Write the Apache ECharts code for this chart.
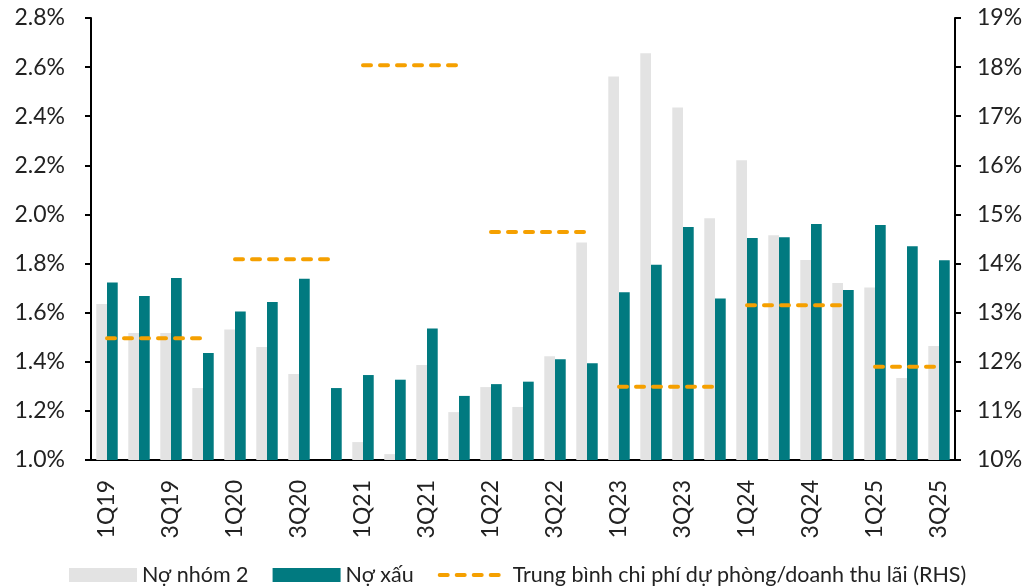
<!DOCTYPE html>
<html lang="vi">
<head>
<meta charset="UTF-8">
<title>Nợ nhóm 2 và nợ xấu</title>
<style>
  html, body { margin: 0; padding: 0; background: #fff; }
  #main { width: 1031px; height: 587px; }
</style>
</head>
<body>
<div id="main"></div>
<script src="https://cdn.jsdelivr.net/npm/echarts@6/dist/echarts.min.js"></script>
<script>
// quý
var quarters = ['1Q19','2Q19','3Q19','4Q19','1Q20','2Q20','3Q20','4Q20',
  '1Q21','2Q21','3Q21','4Q21','1Q22','2Q22','3Q22','4Q22',
  '1Q23','2Q23','3Q23','4Q23','1Q24','2Q24','3Q24','4Q24',
  '1Q25','2Q25','3Q25'];

// Nợ nhóm 2 (%)
var group2 = [1.635, 1.517, 1.517, 1.293, 1.531, 1.46, 1.35, null,
  1.073, 1.024, 1.387, 1.195, 1.297, 1.216, 1.423, 1.886,
  2.562, 2.656, 2.436, 1.984, 2.221, 1.915, 1.814, 1.721,
  1.702, 1.334, 1.464];

// Nợ xấu (%)
var npl = [1.723, 1.668, 1.741, 1.436, 1.605, 1.643, 1.738, 1.293,
  1.346, 1.327, 1.536, 1.261, 1.309, 1.319, 1.41, 1.394,
  1.683, 1.795, 1.949, 1.658, 1.904, 1.907, 1.961, 1.692,
  1.957, 1.87, 1.813];

// trung bình năm, chi phí dự phòng/doanh thu lãi (RHS, %)
var years = ['19', '20', '21', '22', '23', '24', '25'];
var yearAvg = [12.48, 14.09, 18.04, 14.64, 11.49, 13.15, 11.9];

var fontName = 'Lato, "Noto Sans", sans-serif';
var avgName = 'Trung bình chi phí dự phòng/doanh thu lãi (RHS)';
var dashStyle = { color: '#F5A000', width: 4, type: [8, 9], cap: 'round' };

var series = [
  {
    name: 'Nợ nhóm 2',
    type: 'bar',
    data: group2,
    itemStyle: { color: '#E3E3E3' },
    barGap: '0%',
    barCategoryGap: '33%'
  },
  {
    name: 'Nợ xấu',
    type: 'bar',
    data: npl,
    itemStyle: { color: '#017A80' }
  }
];

// mỗi năm một đoạn nét đứt riêng
for (var y = 0; y < years.length; y++) {
  var d = [];
  for (var i = 0; i < quarters.length; i++) {
    d.push(quarters[i].slice(2) === years[y] ? yearAvg[y] : null);
  }
  series.push({
    name: avgName,
    type: 'line',
    yAxisIndex: 1,
    data: d,
    symbol: 'none',
    silent: true,
    lineStyle: dashStyle,
    itemStyle: { color: '#F5A000' }
  });
}

var myChart = echarts.init(document.getElementById('main'));

myChart.setOption({
  animation: false,
  textStyle: { fontFamily: fontName },
  grid: { left: 91, right: 76, top: 18, bottom: 127 },
  legend: {
    left: 69,
    top: 564,
    padding: 0,
    itemWidth: 68,
    itemHeight: 14,
    itemGap: 24,
    data: [
      { name: 'Nợ nhóm 2', icon: 'rect' },
      { name: 'Nợ xấu', icon: 'rect' },
      { name: avgName, itemStyle: { opacity: 0 } }
    ],
    lineStyle: { type: [8, 9], width: 4, cap: 'round' },
    textStyle: { fontSize: 21.5, color: '#222', fontFamily: fontName }
  },
  xAxis: {
    type: 'category',
    data: quarters,
    axisLine: { lineStyle: { color: '#000', width: 2 } },
    axisTick: { interval: 0, length: 7, lineStyle: { color: '#000', width: 2 } },
    axisLabel: { interval: 1, rotate: 90, margin: 20, fontSize: 23, color: '#222' }
  },
  yAxis: [
    {
      type: 'value',
      min: 1.0,
      max: 2.8,
      interval: 0.2,
      splitLine: { show: false },
      axisLine: { show: true, lineStyle: { color: '#000', width: 2 } },
      axisTick: { show: true, length: 6, lineStyle: { color: '#000', width: 2 } },
      axisLabel: {
        margin: 26,
        fontSize: 23,
        color: '#222',
        formatter: function (v) { return v.toFixed(1) + '%'; }
      }
    },
    {
      type: 'value',
      min: 10,
      max: 19,
      interval: 1,
      position: 'right',
      splitLine: { show: false },
      axisLine: { show: true, lineStyle: { color: '#000', width: 2 } },
      axisTick: { show: true, length: 6, lineStyle: { color: '#000', width: 2 } },
      axisLabel: { margin: 22, fontSize: 23, color: '#222', formatter: '{value}%' }
    }
  ],
  series: series
});
</script>
</body>
</html>
